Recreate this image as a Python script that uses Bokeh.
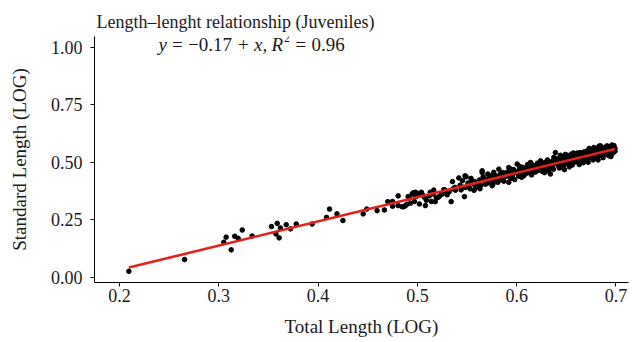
import numpy as np
from bokeh.plotting import figure
from bokeh.models import ColumnDataSource, Range1d, FixedTicker, PrintfTickFormatter, Label
from bokeh.embed import file_html
from bokeh.resources import INLINE

# ---- data ----
total_length = [
    0.2094, 0.2655, 0.305, 0.3074, 0.3125, 0.316, 0.3195, 0.3236, 0.3336, 0.353, 0.3575, 0.3588,
    0.3608, 0.362, 0.3679, 0.3722, 0.378, 0.394, 0.4085, 0.4115, 0.419, 0.425,
    0.4454, 0.449, 0.4594, 0.4668, 0.4702, 0.475, 0.475, 0.4806, 0.4806, 0.4846, 0.488, 0.4907,
    0.493, 0.4957, 0.4984, 0.4863, 0.4917, 0.4947, 0.4981, 0.4895, 0.497,
    0.501, 0.502, 0.503, 0.505, 0.507, 0.508, 0.504, 0.509,
    0.512, 0.514, 0.5165, 0.518, 0.513, 0.516, 0.519,
    0.5226, 0.5265, 0.525, 0.528, 0.521, 0.529,
    0.530, 0.534, 0.5353, 0.5384, 0.5377, 0.532, 0.536,
    0.5417, 0.5454, 0.5474, 0.5484, 0.549, 0.546, 0.548, 0.543, 0.544,
    0.5518, 0.5552, 0.5568, 0.553, 0.558, 0.551, 0.559, 0.554, 0.557,
    0.5602, 0.5625, 0.5652, 0.5662, 0.5686, 0.5652, 0.561, 0.564, 0.567, 0.569, 0.563,
    0.5709, 0.5729, 0.5753, 0.5769, 0.5786, 0.571, 0.574, 0.577, 0.579, 0.572, 0.576,
    0.581, 0.582, 0.5837, 0.5854, 0.588, 0.580, 0.584, 0.586, 0.587, 0.589, 0.583, 0.585,
    0.5904, 0.592, 0.592, 0.591, 0.593, 0.594, 0.595, 0.596, 0.597, 0.598, 0.599, 0.594,
    0.6005, 0.601, 0.602, 0.603, 0.604, 0.605, 0.606, 0.607, 0.607, 0.608, 0.609, 0.603, 0.605, 0.609,
    0.6139, 0.611, 0.612, 0.613, 0.614, 0.615, 0.616, 0.617, 0.618, 0.619, 0.611, 0.616, 0.619, 0.613,
    0.624, 0.621, 0.622, 0.623, 0.625, 0.626, 0.627, 0.628, 0.629, 0.621, 0.626, 0.628, 0.624, 0.629,
    0.634, 0.6374, 0.639, 0.631, 0.632, 0.633, 0.635, 0.636, 0.637, 0.638, 0.631, 0.634, 0.636, 0.639, 0.632,
    0.649, 0.641, 0.642, 0.643, 0.644, 0.645, 0.646, 0.647, 0.648, 0.641, 0.643, 0.645, 0.647, 0.649, 0.644, 0.648,
    0.651, 0.652, 0.653, 0.654, 0.655, 0.656, 0.657, 0.658, 0.659, 0.651, 0.653, 0.655, 0.657, 0.659, 0.654, 0.656,
    0.664, 0.661, 0.662, 0.663, 0.665, 0.666, 0.667, 0.668, 0.669, 0.661, 0.662, 0.664, 0.666, 0.668, 0.669, 0.663,
    0.674, 0.6777, 0.671, 0.672, 0.673, 0.675, 0.676, 0.677, 0.678, 0.679, 0.671, 0.672, 0.674, 0.676, 0.678, 0.679, 0.673,
    0.6844, 0.681, 0.682, 0.683, 0.685, 0.686, 0.687, 0.688, 0.689, 0.681, 0.682, 0.684, 0.686, 0.688, 0.689, 0.683, 0.687,
    0.691, 0.6928, 0.6944, 0.690, 0.692, 0.693, 0.694, 0.695, 0.696, 0.697, 0.698, 0.699, 0.696, 0.697, 0.695, 0.698, 0.691, 0.699,
]
standard_length = [
    0.027, 0.078, 0.153, 0.175, 0.120, 0.179, 0.170, 0.206, 0.180, 0.221, 0.189, 0.235,
    0.172, 0.215, 0.229, 0.211, 0.232, 0.232, 0.261, 0.297, 0.276, 0.247,
    0.276, 0.297, 0.290, 0.293, 0.329, 0.330, 0.309, 0.354, 0.312, 0.307, 0.312, 0.351,
    0.322, 0.367, 0.351, 0.307, 0.345, 0.362, 0.370, 0.318, 0.330,
    0.362, 0.319, 0.365, 0.359, 0.348, 0.312, 0.370, 0.335,
    0.354, 0.330, 0.379, 0.329, 0.370, 0.362, 0.345,
    0.354, 0.381, 0.362, 0.379, 0.348, 0.366,
    0.359, 0.329, 0.416, 0.379, 0.391, 0.372, 0.385,
    0.432, 0.420, 0.351, 0.391, 0.437, 0.391, 0.441, 0.400, 0.380,
    0.398, 0.420, 0.405, 0.385, 0.415, 0.410, 0.392, 0.430, 0.378,
    0.394, 0.423, 0.456, 0.437, 0.405, 0.463, 0.412, 0.400, 0.428, 0.415, 0.385,
    0.449, 0.423, 0.398, 0.456, 0.437, 0.410, 0.440, 0.418, 0.426, 0.432, 0.405,
    0.413, 0.470, 0.449, 0.423, 0.437, 0.440, 0.432, 0.455, 0.418, 0.445, 0.428, 0.440,
    0.456, 0.413, 0.477, 0.440, 0.460, 0.430, 0.452, 0.445, 0.468, 0.425, 0.458, 0.470,
    0.492, 0.455, 0.440, 0.470, 0.460, 0.448, 0.478, 0.441, 0.465, 0.455, 0.472, 0.482, 0.435, 0.450,
    0.499, 0.470, 0.455, 0.480, 0.462, 0.445, 0.488, 0.468, 0.475, 0.458, 0.490, 0.455, 0.485, 0.466,
    0.506, 0.480, 0.465, 0.490, 0.475, 0.460, 0.495, 0.482, 0.470, 0.496, 0.485, 0.455, 0.470, 0.500,
    0.449, 0.521, 0.542, 0.490, 0.475, 0.500, 0.485, 0.505, 0.470, 0.495, 0.510, 0.492, 0.480, 0.510, 0.462,
    0.534, 0.500, 0.485, 0.510, 0.495, 0.520, 0.478, 0.505, 0.490, 0.515, 0.475, 0.500, 0.525, 0.510, 0.530, 0.468,
    0.510, 0.495, 0.520, 0.505, 0.535, 0.488, 0.515, 0.500, 0.528, 0.530, 0.480, 0.510, 0.540, 0.505, 0.522, 0.500,
    0.542, 0.520, 0.500, 0.530, 0.515, 0.535, 0.498, 0.525, 0.510, 0.540, 0.515, 0.525, 0.505, 0.545, 0.530, 0.490,
    0.550, 0.564, 0.530, 0.515, 0.540, 0.525, 0.545, 0.510, 0.535, 0.555, 0.550, 0.500, 0.530, 0.520, 0.548, 0.525, 0.560,
    0.571, 0.540, 0.525, 0.555, 0.535, 0.560, 0.520, 0.548, 0.565, 0.560, 0.510, 0.545, 0.530, 0.535, 0.550, 0.570, 0.542,
    0.571, 0.528, 0.557, 0.548, 0.560, 0.545, 0.568, 0.540, 0.555, 0.565, 0.550, 0.560, 0.575, 0.540, 0.525, 0.572, 0.535, 0.548,
]
x_ticks = [0.2, 0.3, 0.4, 0.5, 0.6, 0.7]
y_ticks = [0.0, 0.25, 0.5, 0.75, 1.0]
title_text = "Length\u2013lenght relationship (Juveniles)"
x_title = "Total Length (LOG)"
y_title = "Standard Length (LOG)"

FONT = "Liberation Serif"
TXT = "#1a1a1a"

xs = np.array(total_length)
ys = np.array(standard_length)
slope, intercept = np.polyfit(xs, ys, 1)
line_x = np.array([xs.min(), xs.max()])
line_y = intercept + slope * line_x

p = figure(width=636, height=342, output_backend="svg", toolbar_location=None,
           x_range=Range1d(0.1748, 0.7126), y_range=Range1d(-0.0217, 1.0456),
           min_border_left=94, min_border_right=8, min_border_top=36, min_border_bottom=60,
           title=title_text)
p.outline_line_color = None
p.background_fill_color = "white"
p.border_fill_color = "white"
p.xgrid.visible = False
p.ygrid.visible = False

p.title.text_font = FONT
p.title.text_font_size = "18px"
p.title.text_font_style = "normal"
p.title.text_color = TXT
p.title.align = "left"
p.title.offset = 2
p.title.standoff = 10

p.scatter(x="x", y="y", source=ColumnDataSource(dict(x=xs, y=ys)),
          size=4.6, color="black", line_color="black")
p.line(line_x, line_y, line_color="#e3211c", line_width=2.6)

for ax in (p.xaxis[0], p.yaxis[0]):
    ax.axis_line_color = "black"
    ax.axis_line_width = 1
    ax.major_tick_line_color = "black"
    ax.major_tick_out = 4
    ax.major_tick_in = 0
    ax.minor_tick_line_color = None
    ax.major_label_text_font = FONT
    ax.major_label_text_font_size = "18px"
    ax.major_label_text_color = TXT
    ax.axis_label_text_font = FONT
    ax.axis_label_text_font_size = "19px"
    ax.axis_label_text_font_style = "normal"
    ax.axis_label_text_color = TXT

p.xaxis[0].ticker = FixedTicker(ticks=x_ticks)
p.xaxis[0].formatter = PrintfTickFormatter(format="%.1f")
p.xaxis[0].axis_label = x_title
p.xaxis[0].major_label_standoff = 2
p.xaxis[0].axis_label_standoff = 11

p.yaxis[0].ticker = FixedTicker(ticks=y_ticks)
p.yaxis[0].formatter = PrintfTickFormatter(format="%.2f")
p.yaxis[0].axis_label = y_title
p.yaxis[0].major_label_standoff = 8
p.yaxis[0].axis_label_standoff = 18

# equation annotation built from pieces (italic variables)
ann_x, ann_y = 0.2393, 1.012
pieces = [
    ("y", "italic", 0, 0, "19px"),
    ("=", "normal", 13.5, 0, "19px"),
    ("\u22120.17", "normal", 29.5, 0, "19px"),
    ("+", "normal", 79.5, 0, "19px"),
    ("x", "italic", 95.5, 0, "19px"),
    (",", "normal", 104, 0, "19px"),
    ("R", "italic", 113, 0, "19px"),
    ("2", "normal", 125.5, 6, "12px"),
    ("=", "normal", 137, 0, "19px"),
    ("0.96", "normal", 153, 0, "19px"),
]
for txt, style, dx, dy, fs in pieces:
    p.add_layout(Label(x=ann_x, y=ann_y, x_offset=dx, y_offset=dy, text=txt, text_font=FONT,
                       text_font_style=style, text_font_size=fs, text_color=TXT,
                       text_baseline="middle"))

open("out.html", "w").write(file_html(p, INLINE))
